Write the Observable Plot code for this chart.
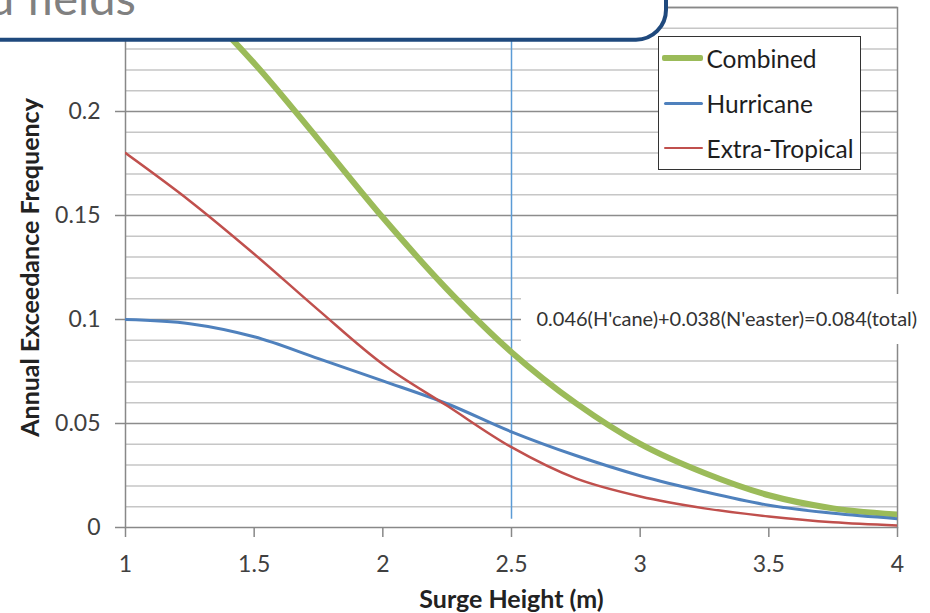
<!DOCTYPE html>
<html><head><meta charset="utf-8">
<script src="https://cdn.jsdelivr.net/npm/d3@7"></script>
<script src="https://cdn.jsdelivr.net/npm/@observablehq/plot@0.6"></script>
<style>
body{margin:0;background:#fff;}
#wrap{position:relative;width:930px;height:613px;overflow:hidden;font-family:Lato,sans-serif;}
#wrap svg g[aria-label="x-axis tick"], #wrap svg g[aria-label="y-axis tick"]{stroke:#888;stroke-width:1.5px;}
#legend{position:absolute;left:658px;top:36px;width:201px;height:132px;border:1.5px solid #333;background:#fff;}
.row{position:absolute;left:0;height:30px;display:flex;align-items:center;font-size:24.5px;color:#1e1e1e;white-space:nowrap;}
.swatch{display:inline-block;width:40px;margin-right:4px;border-radius:2px;}
</style></head><body><div id="wrap"></div>
<script>
// ---- data ----
const surgeHeight   = [1, 1.25, 1.5, 1.75, 2, 2.25, 2.5, 2.75, 3, 3.25, 3.5, 3.75, 4];
const combined      = [0.280, 0.255, 0.2232, 0.1865, 0.149, 0.1145, 0.0843, 0.0598, 0.0402, 0.0262, 0.0155, 0.0092, 0.0062];
const hurricane     = [0.100, 0.0980, 0.0917, 0.0812, 0.0705, 0.0595, 0.0460, 0.0346, 0.0249, 0.0172, 0.0107, 0.0068, 0.0042];
const extraTropical = [0.180, 0.157, 0.1315, 0.1045, 0.0785, 0.0585, 0.0386, 0.0236, 0.0149, 0.0092, 0.0053, 0.0025, 0.0010];
const seriesNames   = ["Combined", "Hurricane", "Extra-Tropical"];
const seriesColors  = ["#9bbb59", "#4f81bd", "#c0504d"];
const seriesWidths  = [6, 3, 2.5];
const xTicks = [1, 1.5, 2, 2.5, 3, 3.5, 4];
const yTicks = [0, 0.05, 0.1, 0.15, 0.2];
const yMax = 0.25;
const gridStep = 0.01;
const markerX = [2.5];
const noteText = "0.046(H'cane)+0.038(N'easter)=0.084(total)";
const noteY = 0.1;
const xTitle = "Surge Height (m)";
const yTitle = "Annual Exceedance Frequency";
const overlayTitle = "d fields";

const seriesValues = [combined, hurricane, extraTropical];
const tables = seriesValues.map(vals => surgeHeight.map((x, i) => ({x, y: vals[i]})));
const minorGrid = d3.range(1, Math.round(yMax / gridStep) + 1).map(i => +(i * gridStep).toFixed(2)).filter(v => Math.round(v * 100) % 5 !== 0);
const majorGrid = yTicks.filter(v => v > 0).concat([yMax]);

const chart = Plot.plot({
  width: 930, height: 613,
  marginLeft: 125, marginRight: 33, marginTop: 7, marginBottom: 86,
  x: {domain: [1, 4]},
  y: {domain: [0, yMax]},
  style: {fontFamily: "Lato, sans-serif", fontSize: "23px", color: "#404040", background: "white", overflow: "visible"},
  marks: [
    Plot.ruleY(minorGrid, {stroke: "#c6c6c6", strokeWidth: 1.5}),
    Plot.ruleY(majorGrid, {stroke: "#8c8c8c", strokeWidth: 1.5}),
    Plot.frame({stroke: "#888", strokeWidth: 1.5}),
    Plot.ruleX(markerX, {x: d => d, y1: 0.004, y2: yMax, stroke: "#5b9bd5", strokeWidth: 1.5}),
    Plot.axisX({ticks: xTicks, tickSize: 10, tickPadding: 18, tickFormat: d => String(d), label: null}),
    Plot.axisY({ticks: yTicks, tickSize: 10, tickPadding: 15, tickFormat: d => String(d), label: null}),
    ...tables.map((t, i) => Plot.line(t, {x: "x", y: "y", stroke: seriesColors[i], strokeWidth: seriesWidths[i], curve: "catmull-rom", clip: true})),
    Plot.text([{x: markerX[0], y: noteY, t: noteText}], {x: "x", y: "y", text: "t", textAnchor: "start", dx: 25, fontSize: 20, fill: "#333"}),
    Plot.text([xTitle], {frameAnchor: "bottom", text: d => d, textAnchor: "middle", lineAnchor: "middle", dy: 72, fontWeight: "bold", fontSize: 25, fill: "#222"}),
    Plot.text([yTitle], {frameAnchor: "left", text: d => d, textAnchor: "middle", lineAnchor: "middle", rotate: -90, dx: -95, fontWeight: "bold", fontSize: 25, fill: "#222"})
  ]
});

const wrap = document.getElementById("wrap");
wrap.appendChild(chart);

// white box behind the annotation text (placed from the plot's own scales)
const xs = chart.scale("x"), ys = chart.scale("y");
const ctx = document.createElement("canvas").getContext("2d");
ctx.font = "20px Lato";
const noteW = ctx.measureText(noteText).width;
const noteLeft = xs.apply(markerX[0]) + 25;
const noteMid = ys.apply(noteY);
const textGroups = Array.from(chart.querySelectorAll('g[aria-label="text"]'));
const noteGroup = textGroups.find(g => g.textContent === noteText);
const rect = document.createElementNS("http://www.w3.org/2000/svg", "rect");
rect.setAttribute("x", noteLeft - 15);
rect.setAttribute("y", noteMid - 25);
rect.setAttribute("width", noteW + 25);
rect.setAttribute("height", 50);
rect.setAttribute("fill", "white");
if (noteGroup) chart.insertBefore(rect, noteGroup);
else chart.appendChild(rect);

// overlapping slide title box (top-left, cut off)
const ov = d3.select(chart).append("g");
ov.append("path")
  .attr("d", "M-20,39.7 H636 A30,30 0 0 0 666,9.7 V-20 H-20 Z")
  .attr("fill", "white").attr("stroke", "#1f497d").attr("stroke-width", 4);
ov.append("text").attr("x", -12).attr("y", 15)
  .attr("text-anchor", "start")
  .attr("font-size", 47).attr("fill", "#808080").attr("font-family", "Lato, sans-serif")
  .text(overlayTitle);

// legend
const legend = document.createElement("div");
legend.id = "legend";
const centers = [21.2, 66.5, 111];
seriesNames.forEach((name, i) => {
  const row = document.createElement("div");
  row.className = "row";
  row.style.top = (centers[i] - 15) + "px";
  const sw = document.createElement("span");
  sw.className = "swatch";
  sw.style.height = seriesWidths[i] + "px";
  sw.style.background = seriesColors[i];
  sw.style.marginLeft = (i === 0 ? 2.5 : 4.5) + "px";
  sw.style.width = (i === 0 ? 41 : 39) + "px";
  row.appendChild(sw);
  row.appendChild(document.createTextNode(name));
  legend.appendChild(row);
});
wrap.appendChild(legend);
</script>
</body></html>
